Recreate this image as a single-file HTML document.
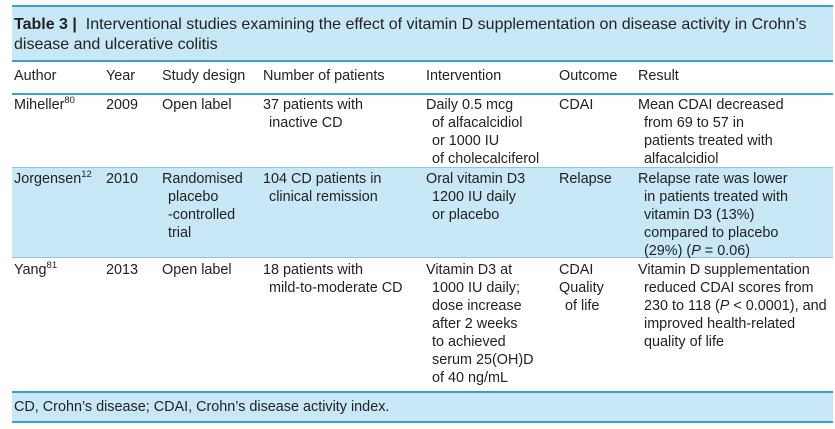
<!DOCTYPE html>
<html><head><meta charset="utf-8"><style>
body{margin:0;width:835px;height:429px;background:#fff;position:relative;overflow:hidden;font-family:"Liberation Sans",Arial,sans-serif;color:#222;font-size:14.4px}
.band{position:absolute;left:12px;width:821px;background:#c8e7f7}
.ln{position:absolute;left:12px;width:821px;height:2px;background:#3a9fd2}
.t{position:absolute;line-height:18px;white-space:nowrap}
sup{font-size:9.5px;vertical-align:6px;line-height:0}
.i{padding-left:6px}
</style></head><body>
<div class="band" style="top:6px;height:55px"></div>
<div class="band" style="top:168px;height:89px"></div>
<div class="band" style="top:392px;height:30px"></div>
<div class="ln" style="top:5px"></div>
<div class="ln" style="top:60px"></div>
<div class="ln" style="top:93px"></div>
<div class="ln" style="top:167px;height:1px;background:#8cc7e6"></div>
<div class="ln" style="top:257px;height:1px;background:#8cc7e6"></div>
<div class="ln" style="top:391px"></div>
<div class="ln" style="top:421px"></div>
<div class="t" style="left:14px;top:15px;font-size:16px;line-height:19.5px"><b>Table 3 |</b>&nbsp; Interventional studies examining the effect of vitamin D supplementation on disease activity in Crohn’s<br>disease and ulcerative colitis</div>
<div class="t" style="left:14px;top:67px">Author</div>
<div class="t" style="left:106px;top:67px">Year</div>
<div class="t" style="left:162px;top:67px">Study design</div>
<div class="t" style="left:263px;top:67px">Number of patients</div>
<div class="t" style="left:426px;top:67px">Intervention</div>
<div class="t" style="left:559px;top:67px">Outcome</div>
<div class="t" style="left:638px;top:67px">Result</div>

<div class="t" style="left:14px;top:96px">Miheller<sup>80</sup></div>
<div class="t" style="left:106px;top:96px">2009</div>
<div class="t" style="left:162px;top:96px">Open label</div>
<div class="t" style="left:263px;top:96px">37 patients with<br><span class="i">inactive CD</span></div>
<div class="t" style="left:426px;top:96px">Daily 0.5 mcg<br><span class="i">of alfacalcidiol</span><br><span class="i">or 1000 IU</span><br><span class="i">of cholecalciferol</span></div>
<div class="t" style="left:559px;top:96px">CDAI</div>
<div class="t" style="left:638px;top:96px">Mean CDAI decreased<br><span class="i">from 69 to 57 in</span><br><span class="i">patients treated with</span><br><span class="i">alfacalcidiol</span></div>

<div class="t" style="left:14px;top:170px">Jorgensen<sup>12</sup></div>
<div class="t" style="left:106px;top:170px">2010</div>
<div class="t" style="left:162px;top:170px">Randomised<br><span class="i">placebo</span><br><span class="i">-controlled</span><br><span class="i">trial</span></div>
<div class="t" style="left:263px;top:170px">104 CD patients in<br><span class="i">clinical remission</span></div>
<div class="t" style="left:426px;top:170px">Oral vitamin D3<br><span class="i">1200 IU daily</span><br><span class="i">or placebo</span></div>
<div class="t" style="left:559px;top:170px">Relapse</div>
<div class="t" style="left:638px;top:170px">Relapse rate was lower<br><span class="i">in patients treated with</span><br><span class="i">vitamin D3 (13%)</span><br><span class="i">compared to placebo</span><br><span class="i">(29%) (<i>P</i> = 0.06)</span></div>

<div class="t" style="left:14px;top:261px">Yang<sup>81</sup></div>
<div class="t" style="left:106px;top:261px">2013</div>
<div class="t" style="left:162px;top:261px">Open label</div>
<div class="t" style="left:263px;top:261px">18 patients with<br><span class="i">mild-to-moderate CD</span></div>
<div class="t" style="left:426px;top:261px">Vitamin D3 at<br><span class="i">1000 IU daily;</span><br><span class="i">dose increase</span><br><span class="i">after 2 weeks</span><br><span class="i">to achieved</span><br><span class="i">serum 25(OH)D</span><br><span class="i">of 40 ng/mL</span></div>
<div class="t" style="left:559px;top:261px">CDAI<br>Quality<br><span class="i">of life</span></div>
<div class="t" style="left:638px;top:261px">Vitamin D supplementation<br><span class="i">reduced CDAI scores from</span><br><span class="i">230 to 118 (<i>P</i> &lt; 0.0001), and</span><br><span class="i">improved health-related</span><br><span class="i">quality of life</span></div>

<div class="t" style="left:14px;top:398px">CD, Crohn’s disease; CDAI, Crohn’s disease activity index.</div>
</body></html>
